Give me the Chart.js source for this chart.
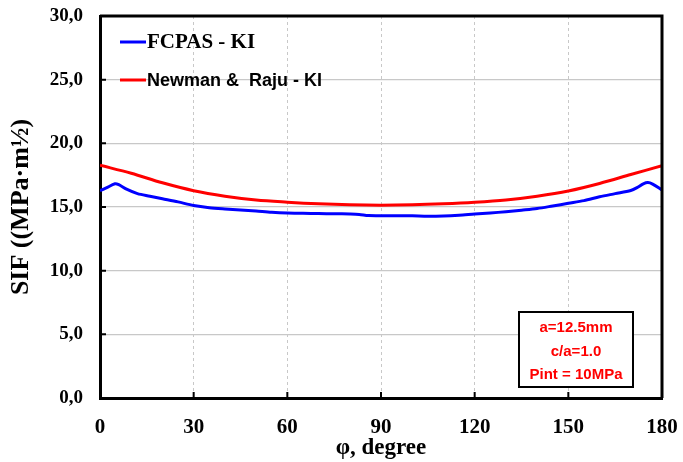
<!DOCTYPE html>
<html>
<head>
<meta charset="utf-8">
<script src="https://cdn.jsdelivr.net/npm/chart.js@4/dist/chart.umd.min.js"></script>
<style>
  body { margin: 0; background: #fff; }
  #wrap { width: 683px; height: 462px; }
</style>
</head>
<body>
<div id="wrap"><canvas id="chartCanvas" width="683" height="462"></canvas></div>
<script>
// angles (degrees) and SIF values
const angFcpas = [0, 2, 4.8, 6, 8.5, 12, 16, 20, 25, 30, 35, 40, 45, 50, 55, 60, 65, 70, 75, 80, 83, 86, 90,
    95, 100, 105, 110, 115, 120, 125, 130, 135, 140, 145, 150, 155, 160, 165, 170, 172, 174, 175.5, 177, 180];
const sifFcpas = [16.28, 16.5, 16.82, 16.75, 16.4, 16.05, 15.85, 15.65, 15.4, 15.12, 14.95, 14.85, 14.77, 14.68,
    14.58, 14.52, 14.5, 14.48, 14.47, 14.45, 14.42, 14.33, 14.32, 14.32, 14.31, 14.28, 14.3, 14.36, 14.45,
    14.53, 14.63, 14.75, 14.88, 15.08, 15.29, 15.5, 15.8, 16.05, 16.3, 16.52, 16.82, 16.92, 16.8, 16.34];

const angNewman = [0, 10, 20, 30, 40, 50, 60, 70, 80, 90, 100, 110, 120, 130, 140, 150, 160, 170, 180];
const sifNewman = [18.28, 17.65, 16.9, 16.28, 15.85, 15.55, 15.38, 15.25, 15.17, 15.14, 15.17, 15.25,
    15.37, 15.55, 15.85, 16.26, 16.85, 17.55, 18.25];

const xTicks = [0, 30, 60, 90, 120, 150, 180];
const yTicks = [0, 5, 10, 15, 20, 25, 30];

const legendLabels = ['FCPAS - KI', 'Newman &  Raju - KI'];
const noteLines = ['a=12.5mm', 'c/a=1.0', 'Pint = 10MPa'];

function points(xs, ys) {
    return xs.map((x, i) => ({ x: x, y: ys[i] }));
}

// cadre, petites graduations internes, legende et encadre rouge
const decorPlugin = {
    id: 'decor',
    afterDraw(chart) {
        const ctx = chart.ctx;
        const a = chart.chartArea;
        const sx = chart.scales.x, sy = chart.scales.y;
        ctx.save();

        ctx.strokeStyle = '#000';
        ctx.lineWidth = 3;
        ctx.beginPath();
        ctx.moveTo(a.left, a.top);
        ctx.lineTo(a.right, a.top);
        ctx.lineTo(a.right, a.bottom);
        ctx.stroke();

        ctx.lineWidth = 2;
        ctx.beginPath();
        xTicks.slice(1, -1).forEach(v => {
            const px = sx.getPixelForValue(v);
            ctx.moveTo(px, a.bottom);
            ctx.lineTo(px, a.bottom - 6);
        });
        yTicks.slice(1, -1).forEach(v => {
            const py = sy.getPixelForValue(v);
            ctx.moveTo(a.left, py);
            ctx.lineTo(a.left + 6, py);
        });
        ctx.stroke();

        // legende
        const rows = [
            { y: 42, color: '#0000ff', font: 'bold 21px "Liberation Serif"' },
            { y: 80, color: '#ff0000', font: 'bold 18px "Liberation Sans"' }
        ];
        rows.forEach((r, i) => {
            ctx.strokeStyle = r.color;
            ctx.lineWidth = 3;
            ctx.beginPath();
            ctx.moveTo(120, r.y);
            ctx.lineTo(146, r.y);
            ctx.stroke();
            ctx.fillStyle = '#000';
            ctx.font = r.font;
            ctx.textAlign = 'left';
            ctx.textBaseline = 'middle';
            ctx.fillText(legendLabels[i], 147, r.y + 1);
        });

        // encadre
        ctx.fillStyle = '#fff';
        ctx.fillRect(519, 312, 114, 75);
        ctx.strokeStyle = '#000';
        ctx.lineWidth = 2;
        ctx.strokeRect(519, 312, 114, 75);
        ctx.fillStyle = '#ff0000';
        ctx.font = 'bold 15px "Liberation Sans"';
        ctx.textAlign = 'center';
        [328, 352, 375].forEach((y, i) => ctx.fillText(noteLines[i], 576, y));

        ctx.restore();
    }
};

const ctx = document.getElementById('chartCanvas').getContext('2d');
new Chart(ctx, {
    type: 'line',
    data: {
        datasets: [{
            label: legendLabels[0],
            data: points(angFcpas, sifFcpas),
            borderColor: '#0000ff',
            borderWidth: 3,
            pointRadius: 0,
            tension: 0.3
        }, {
            label: legendLabels[1],
            data: points(angNewman, sifNewman),
            borderColor: '#ff0000',
            borderWidth: 3,
            pointRadius: 0,
            cubicInterpolationMode: 'monotone'
        }]
    },
    options: {
        responsive: false,
        animation: false,
        layout: { padding: { top: 16, right: 21, left: 0, bottom: 0 } },
        plugins: {
            legend: { display: false },
            tooltip: { enabled: false }
        },
        scales: {
            x: {
                type: 'linear',
                min: 0,
                max: 180,
                afterFit: s => { s.height = 64; s.paddingLeft = 0; s.paddingRight = 0; },
                afterBuildTicks: s => { s.ticks = xTicks.map(v => ({ value: v })); },
                ticks: {
                    color: '#000',
                    padding: 17,
                    font: { family: 'Liberation Serif', size: 21, weight: 'bold' }
                },
                grid: { color: '#c8c8c8', drawTicks: false },
                border: { color: '#000', width: 3, dash: [3, 3] },
                title: {
                    display: true,
                    text: 'φ, degree',
                    color: '#000',
                    padding: { top: 0, bottom: 0 },
                    font: { family: 'Liberation Serif', size: 23, weight: 'bold' }
                }
            },
            y: {
                min: 0,
                max: 30,
                afterFit: s => { s.width = 100; s.paddingTop = 0; s.paddingBottom = 0; },
                afterBuildTicks: s => { s.ticks = yTicks.map(v => ({ value: v })); },
                ticks: {
                    color: '#000',
                    padding: 17,
                    font: { family: 'Liberation Serif', size: 19, weight: 'bold' },
                    callback: v => v.toFixed(1).replace('.', ',')
                },
                grid: { color: '#c8c8c8', lineWidth: 1.3, drawTicks: false },
                border: { color: '#000', width: 3 },
                title: {
                    display: true,
                    text: 'SIF ((MPa·m½)',
                    color: '#000',
                    padding: { top: 6, bottom: 0 },
                    font: { family: 'Liberation Serif', size: 26, weight: 'bold' }
                }
            }
        }
    },
    plugins: [decorPlugin]
});
</script>
</body>
</html>
